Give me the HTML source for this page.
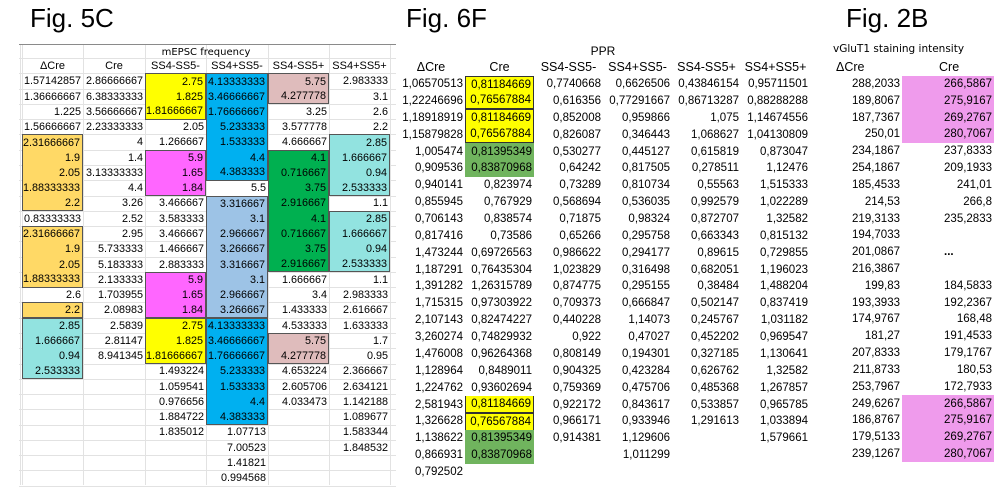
<!DOCTYPE html>
<html><head><meta charset="utf-8"><style>
body{margin:0;background:#fff;width:1000px;height:500px;overflow:hidden;position:relative;font-family:"Liberation Sans",Arial,sans-serif;color:#000}
.a{position:absolute;white-space:nowrap;box-sizing:border-box}
.t{font-size:26px}
.c{display:flex;align-items:center;justify-content:flex-end;padding-right:2px}
.h{display:flex;align-items:center;justify-content:center}
</style></head><body>
<div class="a t" style="left:30px;top:3px">Fig. 5C</div>
<div class="a t" style="left:406px;top:3px">Fig. 6F</div>
<div class="a t" style="left:846px;top:3px">Fig. 2B</div>
<div id="root"></div>
<script>
// ---- Fig 5C data ----
const t5Headers=["ΔCre","Cre","SS4-SS5-","SS4+SS5-","SS4-SS5+","SS4+SS5+"];
const t5Rows=[
["1.57142857","2.86666667","2.75","4.13333333","5.75","2.983333"],
["1.36666667","6.38333333","1.825","3.46666667","4.277778","3.1"],
["1.225","3.56666667","1.81666667","1.76666667","3.25","2.6"],
["1.56666667","2.23333333","2.05","5.233333","3.577778","2.2"],
["2.31666667","4","1.266667","1.533333","4.666667","2.85"],
["1.9","1.4","5.9","4.4","4.1","1.666667"],
["2.05","3.13333333","1.65","4.383333","0.716667","0.94"],
["1.88333333","4.4","1.84","5.5","3.75","2.533333"],
["2.2","3.26","3.466667","3.316667","2.916667","1.1"],
["0.83333333","2.52","3.583333","3.1","4.1","2.85"],
["2.31666667","2.95","3.466667","2.966667","0.716667","1.666667"],
["1.9","5.733333","1.466667","3.266667","3.75","0.94"],
["2.05","5.183333","2.883333","3.316667","2.916667","2.533333"],
["1.88333333","2.133333","5.9","3.1","1.666667","1.1"],
["2.6","1.703955","1.65","2.966667","3.4","2.983333"],
["2.2","2.08983","1.84","3.266667","1.433333","2.616667"],
["2.85","2.5839","2.75","4.13333333","4.533333","1.633333"],
["1.666667","2.81147","1.825","3.46666667","5.75","1.7"],
["0.94","8.941345","1.81666667","1.76666667","4.277778","0.95"],
["2.533333","","1.493224","5.233333","4.653224","2.366667"],
["","","1.059541","1.533333","2.605706","2.634121"],
["","","0.976656","4.4","4.033473","1.142188"],
["","","1.884722","4.383333","","1.089677"],
["","","1.835012","1.07713","","1.583344"],
["","","","7.00523","","1.848532"],
["","","","1.41821","",""],
["","","","0.994568","",""]];
const t5Colors=[
"..YBP.","..YBP.","..YB..","...B..","O..B.C","O.MBGC","O.MBGC","O.M.GC",
"O..LG.","...LGC","O..LGC","O..LGC","O..LGC","O.ML..","..ML..","O.ML..",
"C.YB..","C.YBP.","C.YBP.","C..B..","...B..","...B..","...B..","......","......","......","......"];
// ---- Fig 6F data ----
const t6Headers=["ΔCre","Cre","SS4-SS5-","SS4+SS5-","SS4-SS5+","SS4+SS5+"];
const t6Rows=[
["1,06570513","0,81184669","0,7740668","0,6626506","0,43846154","0,95711501"],
["1,22246696","0,76567884","0,616356","0,77291667","0,86713287","0,88288288"],
["1,18918919","0,81184669","0,852008","0,959866","1,075","1,14674556"],
["1,15879828","0,76567884","0,826087","0,346443","1,068627","1,04130809"],
["1,005474","0,81395349","0,530277","0,445127","0,615819","0,873047"],
["0,909536","0,83870968","0,64242","0,817505","0,278511","1,12476"],
["0,940141","0,823974","0,73289","0,810734","0,55563","1,515333"],
["0,855945","0,767929","0,568694","0,536035","0,992579","1,022289"],
["0,706143","0,838574","0,71875","0,98324","0,872707","1,32582"],
["0,817416","0,73586","0,65266","0,295758","0,663343","0,815132"],
["1,473244","0,69726563","0,986622","0,294177","0,89615","0,729855"],
["1,187291","0,76435304","1,023829","0,316498","0,682051","1,196023"],
["1,391282","1,26315789","0,874775","0,295155","0,38484","1,488204"],
["1,715315","0,97303922","0,709373","0,666847","0,502147","0,837419"],
["2,107143","0,82474227","0,440228","1,14073","0,245767","1,031182"],
["3,260274","0,74829932","0,922","0,47027","0,452202","0,969547"],
["1,476008","0,96264368","0,808149","0,194301","0,327185","1,130641"],
["1,128964","0,8489011","0,904325","0,423284","0,626762","1,32582"],
["1,224762","0,93602694","0,759369","0,475706","0,485368","1,267857"],
["2,581943","0,81184669","0,922172","0,843617","0,533857","0,965785"],
["1,326628","0,76567884","0,966171","0,933946","1,291613","1,033894"],
["1,138622","0,81395349","0,914381","1,129606","","1,579661"],
["0,866931","0,83870968","","1,011299","",""],
["0,792502","","","","",""]];
const t6Colors=["Y","Y","Y","Y","G","G","","","","","","","","","","","","","","Y","Y","G","G",""];
// ---- Fig 2B data ----
const t2Delta=["288,2033","189,8067","187,7367","250,01","234,1867","254,1867","185,4533","214,53","219,3133","194,7033","201,0867","216,3867","199,83","193,3933","174,9767","181,27","207,8333","211,8733","253,7967","249,6267","186,8767","179,5133","239,1267"];
const t2Cre=["266,5867","275,9167","269,2767","280,7067","237,8333","209,1933","241,01","266,8","235,2833","","...","","184,5833","192,2367","168,48","191,4533","179,1767","180,53","172,7933","266,5867","275,9167","269,2767","280,7067"];
const t2Pink=[1,1,1,1,0,0,0,0,0,0,0,0,0,0,0,0,0,0,0,1,1,1,1];

const root=document.getElementById('root');
const pal={Y:"#ffff00",B:"#00b0f0",P:"#dfbcbc",O:"#ffd966",M:"#ff66ff",G:"#00b050",C:"#92e3e0",L:"#9dc3e6"};
function box(x,y,w,h,css,txt,cls){const d=document.createElement('div');d.className='a '+(cls||'');d.style.cssText=`left:${x}px;top:${y}px;width:${w}px;height:${h}px;`+css;if(txt!==undefined)d.textContent=txt;root.appendChild(d);return d;}

// Fig 5C
const c5=[22,83,145,206,268,329,390];const r5top=73.4,r5h=15.27;
const g1=box(19,44,377,1,'background:#8a8a8a');


for(let i=0;i<=t5Rows.length+1;i++){const l=box(19,Math.round(r5top+(i-1)*r5h),377,1,'background:#e2e2e2');

}
for(const x of [20].concat(c5)){const l=box(x,45,1,440,'background:#e2e2e2');

}
const tt=box(22,45,368,14,'font-family:"DejaVu Sans",sans-serif;font-size:10px','mEPSC frequency','h');


t5Headers.forEach((h,j)=>{const d=box(c5[j],r5top-r5h,c5[j+1]-c5[j],r5h,'font-size:11px',h,'h');

});
t5Rows.forEach((row,i)=>row.forEach((v,j)=>{
 const col=t5Colors[i][j];const bg=pal[col]||'transparent';
 let css=`font-size:10.8px;background:${bg};`;
 if(pal[col]){const up=i>0?t5Colors[i-1][j]:'.';const dn=i<t5Rows.length-1?t5Colors[i+1][j]:'.';
  css+='border-left:1px solid #555;border-right:1px solid #555;'+(up!==col?'border-top:1px solid #555;':'')+(dn!==col?'border-bottom:1px solid #555;':'');}
 const d=box(c5[j],r5top+i*r5h,c5[j+1]-c5[j],r5h+0.5,css,v,'c');
 
 
}));

// Fig 6F
const c6=[397,465,534,603,672,741,810];const r6top=75.6,r6h=16.87;
const pt=box(563,43,80,16,'font-size:12px','PPR','h');


t6Headers.forEach((h,j)=>{const d=box(c6[j],r6top-r6h,c6[j+1]-c6[j],r6h,'font-size:12.5px',h,'h');

});
t6Rows.forEach((row,i)=>row.forEach((v,j)=>{
 let css='font-size:11.5px;';
 if(j==1&&t6Colors[i]){css+='background:'+(t6Colors[i]=='Y'?'#ffff00':'#70b45e')+';';
  if(t6Colors[i]=='Y')css+='border-left:1px solid #333;border-right:1px solid #333;'+(i%2==1?'border-bottom:1px solid #333;':'')+(i%2==0?'border-top:1px solid #333;':'');}
 const d=box(c6[j],r6top+i*r6h,c6[j+1]-c6[j],r6h,css,v,'c');
 
 
}));

// Fig 2B
const r2top=75.6,r2h=16.82;
const vt=box(833,43,150,16,'font-family:"DejaVu Sans",sans-serif;font-size:10.5px;','vGluT1 staining intensity');


const h1=box(836,59,40,r2h,'font-size:12.5px;display:flex;align-items:center','ΔCre');


const h2=box(939,59,40,r2h,'font-size:12.5px;display:flex;align-items:center','Cre');


t2Delta.forEach((v,i)=>{const d=box(830,r2top+i*r2h,72,r2h,'font-size:11.5px',v,'c');

});
t2Cre.forEach((v,i)=>{const isDots=v==='...';const d=box(902,r2top+i*r2h,92,r2h,'font-size:11.5px;'+(t2Pink[i]?'background:#ef9bec;':'')+(isDots?'justify-content:flex-start;padding-left:42px;font-weight:bold;':''),v,'c');

});
</script>
</body></html>
